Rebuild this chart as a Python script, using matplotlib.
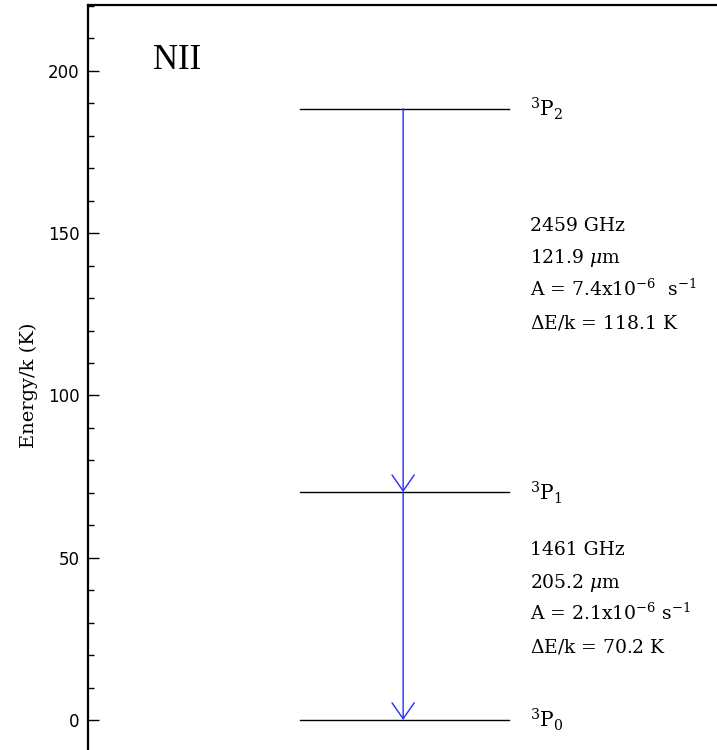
import matplotlib
matplotlib.use('Agg')
import matplotlib.pyplot as plt
from matplotlib.ticker import MultipleLocator

# - - - - - - - - - - Data - - - - - - - - - - #
level_names = [r'$^{3}\mathrm{P}_{0}$', r'$^{3}\mathrm{P}_{1}$', r'$^{3}\mathrm{P}_{2}$']
level_energy = [0.0, 70.2, 188.3]   # K

# transitions: (upper index, lower index)
transitions = [(2, 1), (1, 0)]
transition_text = [
    ['2459 GHz', r'121.9 $\mu$m', r'A = 7.4x10$^{-6}$  s$^{-1}$', r'$\Delta$E/k = 118.1 K'],
    ['1461 GHz', r'205.2 $\mu$m', r'A = 2.1x10$^{-6}$ s$^{-1}$', r'$\Delta$E/k = 70.2 K'],
]
text_top = [150.7, 50.8]   # baseline of first line of each block

species = 'NII'

# - - - - - - - - - - Plot - - - - - - - - - - #
plt.rcParams['mathtext.fontset'] = 'dejavuserif'

fig = plt.figure(figsize=(7.17, 7.5), dpi=100)
ax = fig.add_axes([88 / 717, 0.0, 1 - 88 / 717, 1 - 5 / 750])

ax.set_xlim(0, 1)
ax.set_ylim(-9.25, 220.3)

# levels
for name, e in zip(level_names, level_energy):
    ax.plot([0.337, 0.669], [e, e], color='black', lw=1.0)
    ax.annotate(name, xy=(0.703, e), xytext=(0, -5.5), textcoords='offset points',
                fontsize=14.5, family='DejaVu Serif', va='baseline', ha='left')

# transitions
for (up, lo), lines, y0 in zip(transitions, transition_text, text_top):
    ax.annotate('', xy=(0.501, level_energy[lo]), xytext=(0.501, level_energy[up]),
                arrowprops=dict(arrowstyle='->,head_length=1.15,head_width=0.8',
                                color='#2a2aff', lw=1.0, shrinkA=0, shrinkB=0))
    for i, s in enumerate(lines):
        ax.text(0.703, y0 - 10 * i, s, fontsize=13.5, family='DejaVu Serif',
                va='baseline', ha='left')

ax.text(0.104, 200.6, species, fontsize=25, family='Liberation Serif',
        va='baseline', ha='left')

# axes styling
ax.spines['right'].set_visible(False)
ax.spines['bottom'].set_visible(False)
ax.spines['left'].set_linewidth(1.6)
ax.spines['top'].set_linewidth(1.6)
ax.set_xticks([])
ax.yaxis.set_major_locator(MultipleLocator(50))
ax.yaxis.set_minor_locator(MultipleLocator(10))
ax.tick_params(axis='y', which='major', direction='in', length=8, width=1, labelsize=12, pad=6)
ax.tick_params(axis='y', which='minor', direction='in', length=4, width=1)
ax.set_ylabel('Energy/k (K)', fontsize=14, family='DejaVu Serif')
ax.yaxis.set_label_coords(-0.0795, 0.489)

fig.savefig('out.png', dpi=100)
